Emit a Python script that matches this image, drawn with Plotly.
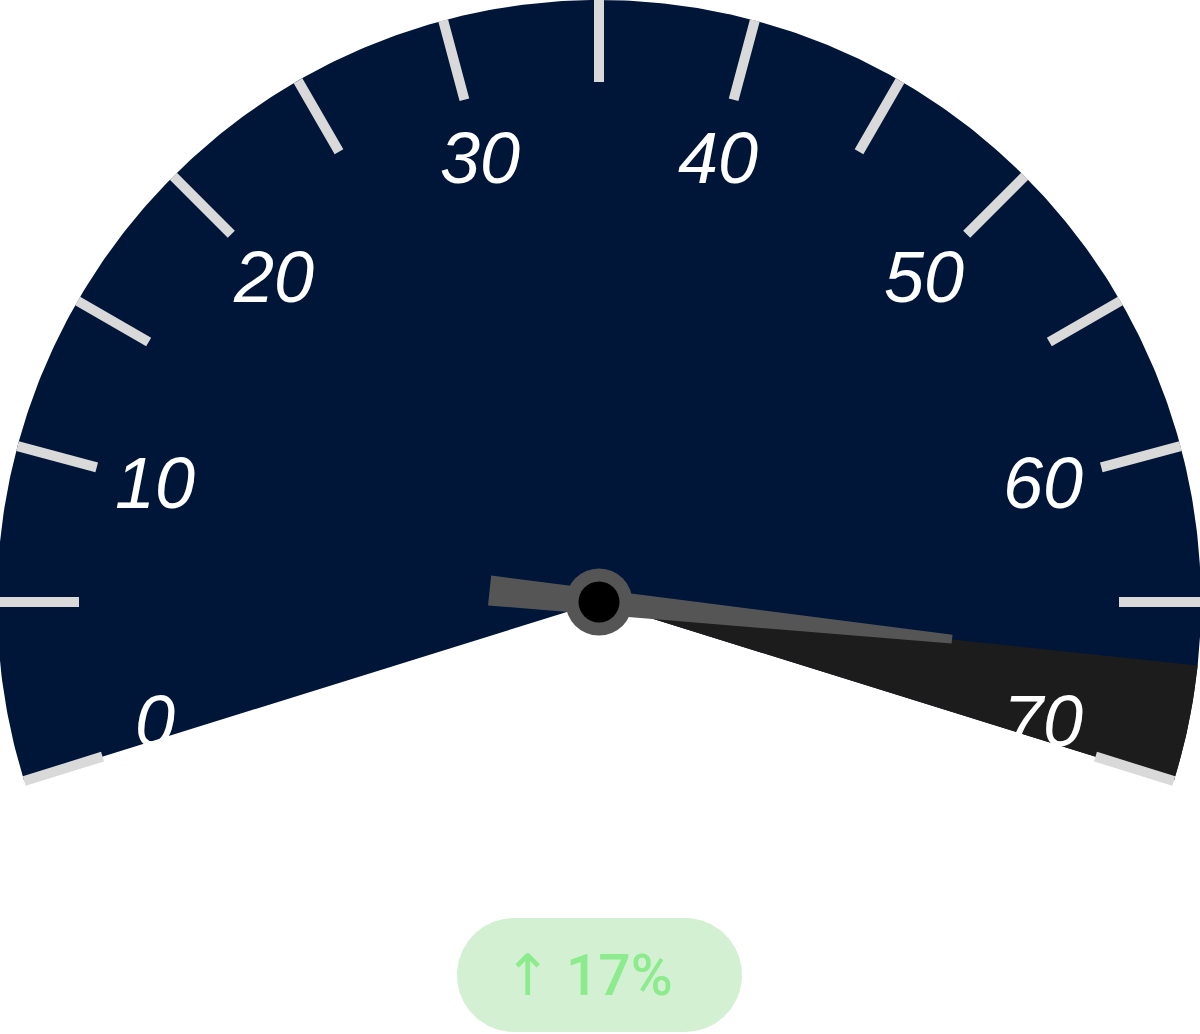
import numpy as np
import plotly.graph_objects as go

# ---- data ----
scale_min = 0
scale_max = 70
tick_values = list(range(0, 75, 5))
label_values = [0, 10, 20, 30, 40, 50, 60, 70]
tick_labels = [str(v) for v in label_values]
needle_value = 67
value_text = "$68"
delta_pct = 17

# ---- look ----
W, H = 1200, 1034
CX, CY = 599, 602          # pixel position of the pivot
R = 602                    # face radius
ANGLE_AT_MIN = 195.0       # degrees, 0 = east, counter-clockwise
DEG_PER_UNIT = 3.0
EDGE_PAD = 2.3             # face runs a bit past both scale ends
TICK_IN, TICK_W = 520, 10
LABEL_R = 460
NAVY = "#001638"
BAND = "#1c1c1c"
TICK_COLOR = "#d9d9d9"
NEEDLE = "#555555"


def angle(v):
    return ANGLE_AT_MIN - DEG_PER_UNIT * (v - scale_min)


a_start = angle(scale_min) + EDGE_PAD
a_end = angle(scale_max) - EDGE_PAD


def sector(a0, a1, r, n=400):
    t = np.radians(np.linspace(a0, a1, n))
    x = np.concatenate([[0], r * np.cos(t), [0]])
    y = np.concatenate([[0], r * np.sin(t), [0]])
    return x, y


def poly(trace_x, trace_y, pts):
    for px, py in pts:
        trace_x.append(px)
        trace_y.append(py)
    trace_x.append(pts[0][0])
    trace_y.append(pts[0][1])
    trace_x.append(None)
    trace_y.append(None)


fig = go.Figure()

# face and the band past the needle
fx, fy = sector(a_start, a_end, R)
fig.add_trace(go.Scatter(x=fx, y=fy, fill="toself", fillcolor=NAVY, mode="lines",
                         line=dict(width=0), hoverinfo="skip"))
bx, by = sector(angle(needle_value), a_end, R)
fig.add_trace(go.Scatter(x=bx, y=by, fill="toself", fillcolor=BAND, mode="lines",
                         line=dict(width=0), hoverinfo="skip"))

# ticks (end ticks sit on the face edges)
tx, ty = [], []
for v in tick_values:
    a = angle(v)
    if v == scale_min:
        a = a_start
    elif v == scale_max:
        a = a_end
    u = np.array([np.cos(np.radians(a)), np.sin(np.radians(a))])
    n = np.array([-u[1], u[0]]) * TICK_W / 2
    p0, p1 = u * TICK_IN, u * R
    poly(tx, ty, [p0 + n, p1 + n, p1 - n, p0 - n])
fig.add_trace(go.Scatter(x=tx, y=ty, fill="toself", fillcolor=TICK_COLOR, mode="lines",
                         line=dict(width=0), hoverinfo="skip"))

# needle
a = np.radians(angle(needle_value))
u = np.array([np.cos(a), np.sin(a)])
nrm = np.array([-u[1], u[0]])
tail, tip = -110, 355
nx, ny = [], []
poly(nx, ny, [u * tail + nrm * 15, u * tip + nrm * 4.5, u * tip - nrm * 4.5, u * tail - nrm * 15])
fig.add_trace(go.Scatter(x=nx, y=ny, fill="toself", fillcolor=NEEDLE, mode="lines",
                         line=dict(width=0), hoverinfo="skip"))

# hub
fig.add_trace(go.Scatter(x=[0], y=[0], mode="markers", hoverinfo="skip",
                         marker=dict(size=67, color=NEEDLE, line=dict(width=0))))
fig.add_trace(go.Scatter(x=[0], y=[0], mode="markers", hoverinfo="skip",
                         marker=dict(size=41, color="#000000", line=dict(width=0))))

# pill behind the delta
pill_cy = CY - 975
pill_hw, pill_hh = 142.5, 57
t = np.linspace(-np.pi / 2, np.pi / 2, 100)
px = np.concatenate([pill_hw - pill_hh + pill_hh * np.cos(t),
                     -(pill_hw - pill_hh) - pill_hh * np.cos(t)]) + 0.5
py = np.concatenate([pill_cy + pill_hh * np.sin(t), pill_cy - pill_hh * np.sin(t)])
fig.add_trace(go.Scatter(x=np.append(px, px[0]), y=np.append(py, py[0]), fill="toself",
                         fillcolor="#d3f0d3", mode="lines", line=dict(width=0),
                         hoverinfo="skip"))

annotations = []
for v, lab in zip(label_values, tick_labels):
    a = np.radians(angle(v))
    annotations.append(dict(x=LABEL_R * np.cos(a), y=LABEL_R * np.sin(a), text=lab,
                            showarrow=False, xanchor="center", yanchor="middle",
                            font=dict(family="Liberation Sans", size=72, color="white",
                                      style="italic")))
annotations.append(dict(x=0, y=CY - 853, text=value_text, showarrow=False,
                        xanchor="center", yanchor="middle",
                        font=dict(family="Liberation Sans", size=80, color="white")))
annotations.append(dict(x=-11, y=pill_cy, text=f"\u2191 {delta_pct}%", showarrow=False,
                        xanchor="center", yanchor="middle",
                        font=dict(family="Roboto, DejaVu Sans, sans-serif", size=57,
                                  color="#8ceb8c", weight=500)))

fig.update_layout(
    width=W, height=H,
    margin=dict(l=0, r=0, t=0, b=0),
    paper_bgcolor="white", plot_bgcolor="white",
    showlegend=False,
    xaxis=dict(range=[-CX, W - CX], visible=False, fixedrange=True),
    yaxis=dict(range=[CY - H, CY], visible=False, fixedrange=True),
    annotations=annotations,
)

# the page's default body margin would push the figure 8px right and down
fig.write_html("out.html", config={"displayModeBar": False},
               post_script="document.body.style.margin='0';")
